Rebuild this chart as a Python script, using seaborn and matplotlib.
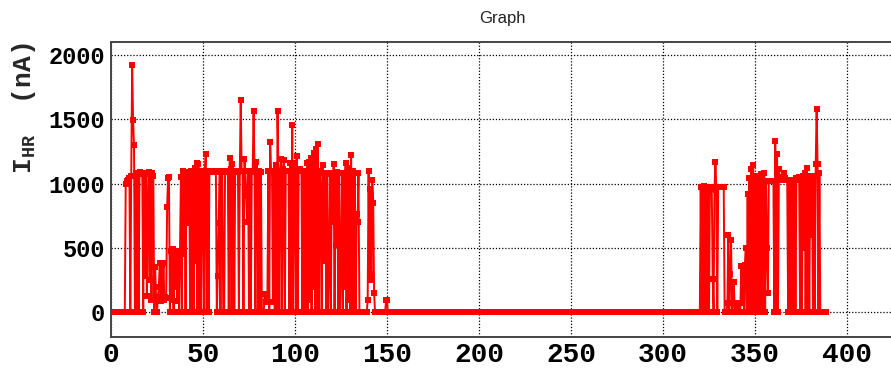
import numpy as np
import pandas as pd
import matplotlib
matplotlib.use("Agg")
import matplotlib.pyplot as plt
import seaborn as sns
from matplotlib.ticker import MultipleLocator

# ---------------- data (current I_HR in nA, sampled every 0.5 time units) -------------
STEP = 0.5

quiet_early_start = 0.0
quiet_early = [0] * 15            # t = 0.0 .. 7.0

burst_a_start = 7.5               # t = 7.5 .. 150.5
burst_a = [
    0, 1000, 1020, 1030, 1030, 1040, 0, 1060, 1920, 1490,
    1300, 0, 1080, 0, 1070, 0, 1080, 1090, 1080, 1070,
    0, 1080, 280, 1070, 130, 850, 1090, 250, 1070, 100,
    1080, 1060, 0, 350, 100, 0, 120, 200, 380, 90,
    370, 110, 380, 100, 120, 110, 820, 1040, 1050, 0,
    480, 100, 490, 0, 480, 200, 480, 90, 470, 0,
    480, 1050, 0, 1100, 450, 1060, 0, 1080, 1070, 690,
    1090, 0, 1100, 0, 1090, 0, 1120, 400, 1160, 0,
    1150, 0, 1100, 0, 1090, 1100, 0, 1100, 1230, 0,
    1090, 0, 1090, 1100, 1100, 1090, 1100, 1100, 1090, 1100,
    0, 280, 690, 1090, 0, 1100, 1090, 0, 0, 1100,
    1100, 1100, 1090, 0, 1200, 1110, 0, 1150, 1100, 0,
    1100, 1100, 1100, 1090, 0, 1100, 1650, 1100, 1100, 0,
    1190, 1100, 900, 700, 1100, 0, 1100, 0, 1090, 1100,
    1560, 1100, 0, 1170, 1100, 0, 1100, 0, 1090, 0,
    0, 0, 140, 140, 80, 140, 1100, 0, 1320, 1100,
    1100, 80, 1100, 0, 1140, 0, 1560, 1100, 0, 1100,
    1190, 0, 1110, 1180, 0, 1100, 1100, 1100, 1100, 0,
    1160, 0, 1450, 0, 1160, 1100, 0, 1210, 0, 1100,
    1110, 1100, 1100, 0, 1100, 0, 1100, 0, 1160, 0,
    1170, 100, 1200, 0, 1200, 200, 1240, 0, 1270, 50,
    1310, 0, 1100, 900, 0, 1140, 400, 1080, 900, 0,
    1080, 0, 300, 1070, 0, 1080, 700, 1150, 0, 1080,
    520, 1090, 0, 1080, 0, 300, 1080, 0, 1080, 200,
    1160, 0, 1090, 100, 1120, 0, 1220, 0, 1100, 0,
    1080, 0, 760, 700, 1080, 0, 0, 0, 0, 0,
    0, 0, 0, 0, 100, 1100, 250, 960, 300, 1030,
    850, 150, 0, 0, 0, 0, 0, 0, 0, 0,
    0, 0, 0, 0, 100, 100, 0,
]

quiet_mid_start = 151.0
quiet_mid = [0] * 338             # t = 151.0 .. 319.5

burst_b_start = 320.0             # t = 320.0 .. 388.5
burst_b = [
    0, 970, 0, 975, 0, 980, 0, 970, 0, 975,
    0, 970, 970, 970, 260, 0, 960, 1170, 950, 0,
    970, 970, 970, 970, 970, 975, 970, 0, 0, 0,
    70, 600, 0, 300, 560, 0, 70, 240, 0, 70,
    0, 70, 0, 70, 0, 360, 70, 360, 0, 370,
    500, 0, 920, 0, 1040, 0, 1110, 0, 1140, 0,
    1050, 0, 1060, 0, 1050, 0, 1070, 0, 1050, 0,
    1080, 0, 1020, 500, 150, 1020, 1020, 1020, 1020, 1020,
    1020, 0, 1330, 0, 1230, 0, 1110, 1030, 1030, 1040,
    1050, 1080, 1060, 1040, 1030, 1030, 0, 1030, 0, 1020,
    0, 1020, 0, 1030, 0, 1040, 1030, 1040, 1050, 0,
    1050, 0, 1060, 500, 1080, 0, 1120, 0, 1060, 0,
    1050, 600, 1050, 0, 1060, 0, 1150, 1580, 1150, 0,
    1080, 0, 0, 0, 0, 0, 0, 0,
]

x_ticks_major = 50
y_ticks_major = 500
title_text = "Graph"
y_label = r"$\mathbf{I}_{\mathbf{HR}}$  (nA)"

# ---------------- assemble -----------------------------------------------------------
segments = [(quiet_early_start, quiet_early), (burst_a_start, burst_a),
            (quiet_mid_start, quiet_mid), (burst_b_start, burst_b)]
t_all, i_all = [], []
for start, vals in segments:
    t_all.extend(start + STEP * np.arange(len(vals)))
    i_all.extend(vals)
df = pd.DataFrame({"t": t_all, "i_hr": i_all})

# ---------------- style ---------------------------------------------------------------
sns.set_style("white")
plt.rcParams["font.family"] = ["Liberation Mono", "DejaVu Sans"]
plt.rcParams["font.weight"] = "bold"
plt.rcParams["mathtext.fontset"] = "custom"
plt.rcParams["mathtext.bf"] = "Liberation Mono:bold"
plt.rcParams["mathtext.rm"] = "Liberation Mono:bold"
plt.rcParams["mathtext.it"] = "Liberation Mono:bold"

fig = plt.figure(figsize=(8.91, 3.71), dpi=100)
ax = fig.add_axes([111 / 891, 34 / 371, 780 / 891, 295 / 371])
ax.set_axisbelow(True)

sns.lineplot(data=df, x="t", y="i_hr", ax=ax, color="#ff0000", linewidth=1.4,
             marker="s", markersize=4.0, markeredgewidth=0,
             estimator=None, sort=False)

ax.set_xlim(0, 780 / 1.84)
ax.set_ylim(-190, 2097)

ax.xaxis.set_major_locator(MultipleLocator(x_ticks_major))
ax.xaxis.set_minor_locator(MultipleLocator(10))
ax.yaxis.set_major_locator(MultipleLocator(y_ticks_major))
ax.yaxis.set_minor_locator(MultipleLocator(100))

frame_col = "#444444"
ax.tick_params(axis="y", which="major", direction="in", length=18, width=1.2,
               color=frame_col, labelsize=17, pad=4.5, labelcolor="black")
ax.tick_params(axis="y", which="minor", direction="in", length=9, width=1.0,
               color=frame_col)
ax.tick_params(axis="x", which="major", direction="in", length=6.5, width=1.2,
               color=frame_col, labelsize=20, pad=3.5, labelcolor="black")
ax.tick_params(axis="x", which="minor", direction="in", length=3.2, width=1.0,
               color=frame_col)

ax.grid(True, which="major", linestyle=(0, (1, 1.5)), linewidth=0.9, color="black")

for side in ["left", "top", "bottom"]:
    ax.spines[side].set_color(frame_col)
    ax.spines[side].set_linewidth(1.4)
    ax.spines[side].set_visible(True)
ax.spines["right"].set_visible(False)

ax.set_xlabel("")
ax.set_ylabel(y_label, fontsize=19, fontweight="bold", loc="top")
ax.yaxis.set_label_coords(-0.0937, 1.0)

fig.text(502 / 891, 1 - 18 / 371, title_text, family=["Liberation Sans", "DejaVu Sans"],
         fontsize=12, fontweight="normal", ha="center", va="center", color="#222222")

fig.savefig("out.png", dpi=100)
